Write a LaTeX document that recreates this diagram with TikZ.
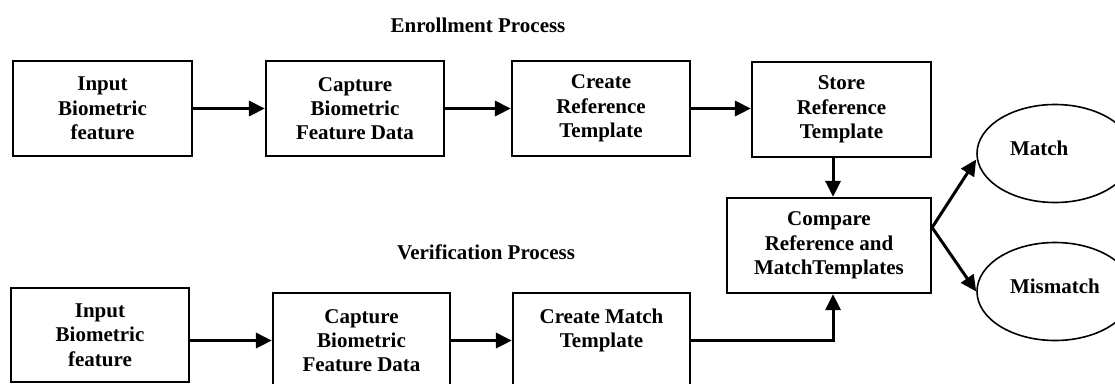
\documentclass[tikz,border=0pt]{standalone}
\usepackage{fontspec}
\setmainfont{Liberation Serif}
\usetikzlibrary{arrows.meta,shapes.geometric}
\begin{document}
\begin{tikzpicture}[x=1pt,y=-1pt,
  every node/.style={font=\fontsize{21}{24.3}\selectfont\bfseries},
  box/.style={draw, line width=2.2pt, align=center, inner sep=0pt, minimum width=178pt, minimum height=95pt},
  oval/.style={draw, ellipse, line width=1.6pt, minimum width=156pt, minimum height=98pt, inner sep=0pt, text width=90pt, align=left, text height=14pt, text depth=11pt},
  conn/.style={line width=3pt, -{Triangle[length=16pt,width=15pt]}},
  title/.style={inner sep=0pt}]
\useasboundingbox (0,0) rectangle (1115,383);
\fill[white] (0,0) rectangle (1115,383);
\clip (0,0) rectangle (1115,383);
% titles
\node[title] (t1) at (478,25) {Enrollment Process};
\node[title] (t2) at (486,252) {Verification Process};
% enrollment row
\node[box,minimum width=179pt] (e1) at (102.5,108.5) {Input\\Biometric\\feature};
\node[box] (e2) at (355,108.5) {Capture\\Biometric\\Feature Data};
\node[box] (e3) at (601,108.5) {Create\\Reference\\Template};
\node[box,minimum width=179pt] (e4) at (841.5,109.5) {Store\\Reference\\Template};
% compare
\node[box,minimum width=204pt] (cmp) at (829,245.5) {Compare\\Reference and\\MatchTemplates};
% verification row
\node[box,minimum height=94pt] (v1) at (100,335) {Input\\Biometric\\feature};
\node[box,minimum width=177pt] (v2) at (361.5,340.5) {Capture\\Biometric\\Feature Data};
\node[box,minimum width=177pt] (v3) at (601.5,340.5) {Create Match\\Template\\~};
% outcomes
\node[oval] (m1) at (1055,153.5) {Match};
\node[oval] (m2) at (1055,291.5) {Mismatch};
% connectors
\coordinate (j1) at ([xshift=4pt]cmp.north);
\coordinate (j2) at ([xshift=4pt]cmp.south);
\coordinate (br) at ([yshift=18pt]cmp.east);
\draw[conn] (e1.east) -- (e2.west);
\draw[conn] (e2.east) -- (e3.west);
\draw[conn] (e3.east) -- (e3.east -| e4.west);
\draw[conn] (j1 |- e4.south) -- (j1);
\draw[conn] (v2.west -| v1.east) -- (v2.west);
\draw[conn] (v2.east) -- (v3.west);
\draw[conn] (v3.east) -| (j2);
\draw[conn] (br) -- ([yshift=-6pt]m1.west);
\draw[conn] (br) -- (m2.west);
\end{tikzpicture}
\end{document}
